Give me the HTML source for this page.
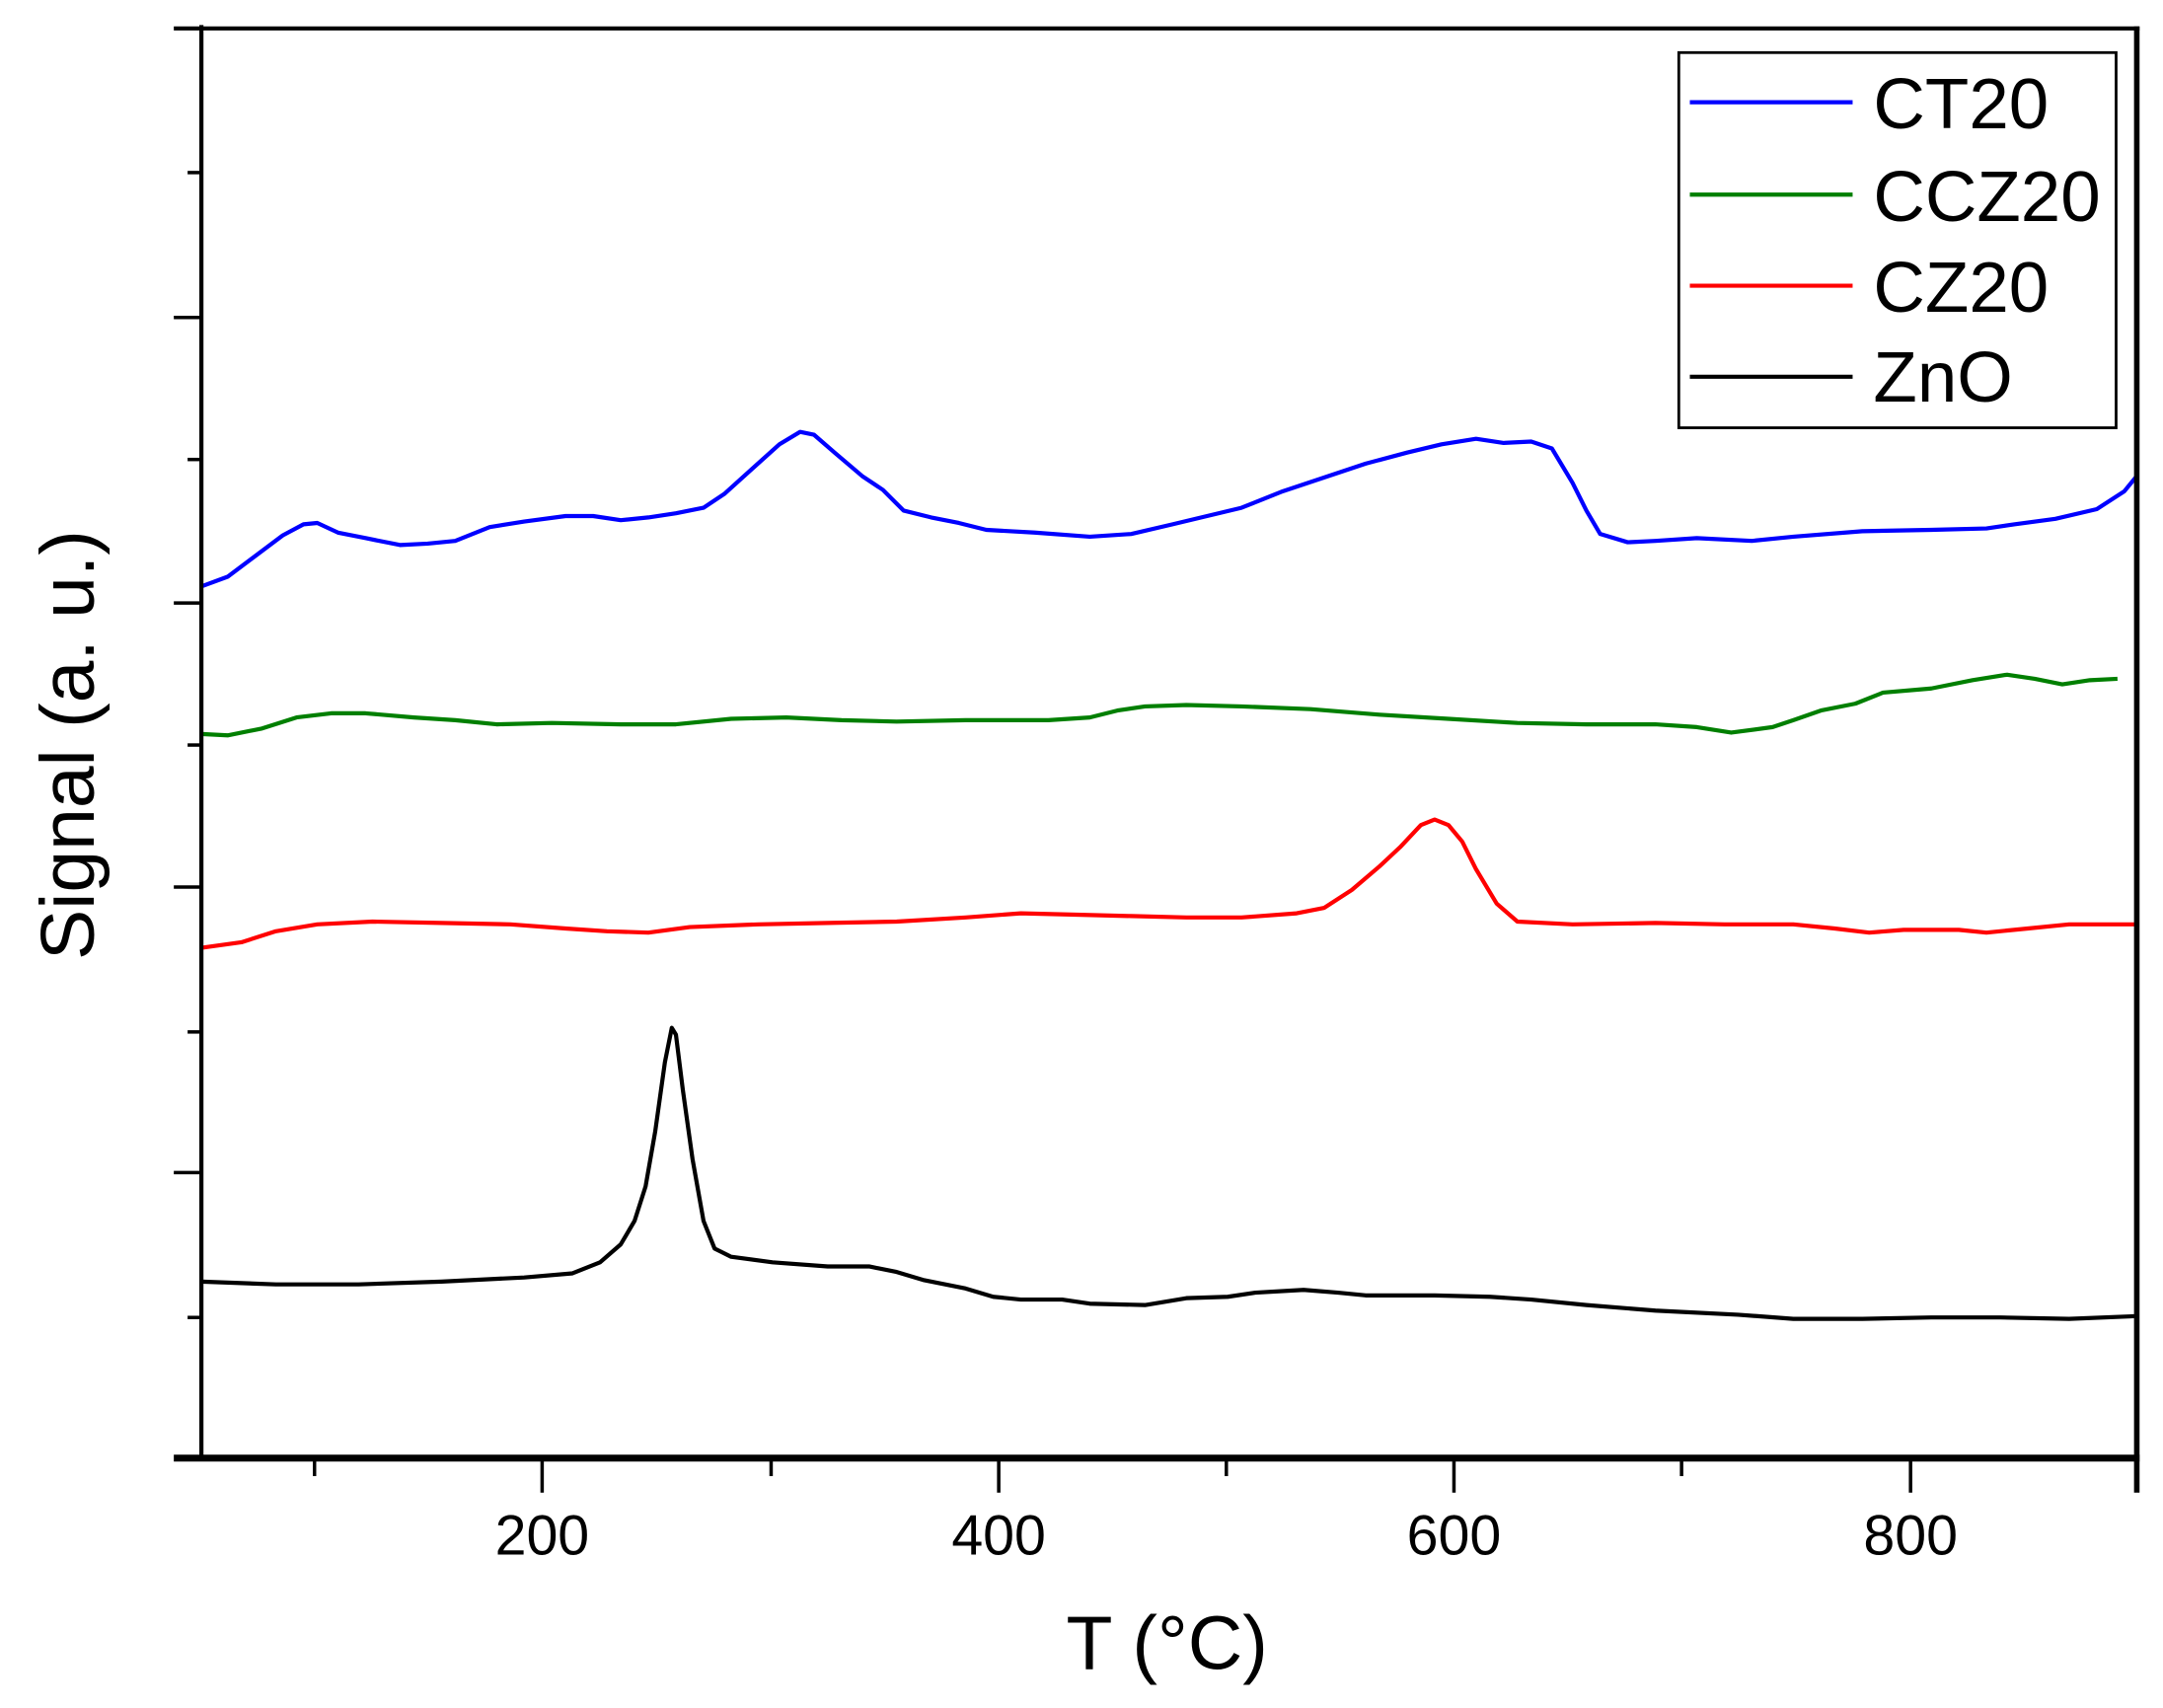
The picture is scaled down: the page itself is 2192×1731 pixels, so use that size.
<!DOCTYPE html>
<html><head><meta charset="utf-8"><style>html,body{margin:0;padding:0;background:#fff}svg{display:block}</style></head>
<body>
<svg width="2192" height="1731" viewBox="0 0 1568 1238" xmlns="http://www.w3.org/2000/svg" font-family="Liberation Sans, Arial, sans-serif">
<rect width="1568" height="1238" fill="#fff"/>
<g fill="none" stroke-width="3" stroke-linejoin="round">
<polyline stroke="#0000ff" points="146,425 165,418 185,403 205,388 220,380 230,379 245,386 265,390 290,395 310,394 330,392 355,382 380,378 410,374 430,374 450,377 470,375 490,372 510,368 525,358 545,340 565,322 580,313 590,315 605,328 625,345 640,355 655,370 675,375 695,379 715,384 750,386 790,389 820,387 850,380 875,374 900,368 930,356 960,346 990,336 1020,328 1045,322 1070,318 1090,321 1110,320 1125,325 1140,350 1150,370 1160,387 1180,393 1200,392 1230,390 1270,392 1300,389 1350,385 1400,384 1440,383 1460,380 1490,376 1520,369 1540,356 1549,345"/>
<polyline stroke="#007f00" points="146,532 165,533 190,528 215,520 240,517 265,517 300,520 330,522 360,525 400,524 450,525 490,525 530,521 570,520 610,522 650,523 700,522 760,522 790,520 810,515 830,512 860,511 900,512 950,514 1000,518 1050,521 1100,524 1150,525 1200,525 1230,527 1255,531 1285,527 1300,522 1320,515 1345,510 1365,502 1400,499 1430,493 1455,489 1475,492 1495,496 1515,493 1535,492"/>
<polyline stroke="#ff0000" points="146,687 175,683 200,675 230,670 270,668 320,669 370,670 410,673 440,675 470,676 500,672 550,670 600,669 650,668 700,665 740,662 780,663 820,664 860,665 900,665 940,662 960,658 980,645 1000,628 1015,614 1030,598 1040,594 1050,598 1060,610 1070,630 1085,655 1100,668 1140,670 1200,669 1250,670 1300,670 1330,673 1355,676 1380,674 1420,674 1440,676 1470,673 1500,670 1520,670 1549,670"/>
<polyline stroke="#000" points="146,929 200,931 260,931 320,929 380,926 415,923 435,915 450,902 460,885 468,860 475,820 482,770 487,745 490,750 495,790 502,840 510,885 518,905 530,911 560,915 600,918 630,918 650,922 670,928 700,934 720,940 740,942 770,942 790,945 830,946 860,941 890,940 910,937 945,935 970,937 990,939 1040,939 1080,940 1110,942 1150,946 1200,950 1260,953 1300,956 1350,956 1400,955 1450,955 1500,956 1549,954"/>
</g>
<g stroke="#000" fill="none">
<line x1="146" y1="18" x2="146" y2="1057" stroke-width="3"/>
<line x1="126" y1="20.5" x2="1551" y2="20.5" stroke-width="3"/>
<line x1="1549" y1="19" x2="1549" y2="1082" stroke-width="4"/>
<line x1="126" y1="1057" x2="1551" y2="1057" stroke-width="5"/>
<g stroke-width="2.5">
<line x1="126" y1="230" x2="146" y2="230"/><line x1="126" y1="437" x2="146" y2="437"/><line x1="126" y1="643" x2="146" y2="643"/><line x1="126" y1="850" x2="146" y2="850"/>
<line x1="136" y1="125" x2="146" y2="125"/><line x1="136" y1="333" x2="146" y2="333"/><line x1="136" y1="540" x2="146" y2="540"/><line x1="136" y1="748" x2="146" y2="748"/><line x1="136" y1="955" x2="146" y2="955"/>
<line x1="393" y1="1057" x2="393" y2="1082"/><line x1="724" y1="1057" x2="724" y2="1082"/><line x1="1054" y1="1057" x2="1054" y2="1082"/><line x1="1385" y1="1057" x2="1385" y2="1082"/>
<line x1="228" y1="1057" x2="228" y2="1070"/><line x1="559" y1="1057" x2="559" y2="1070"/><line x1="889" y1="1057" x2="889" y2="1070"/><line x1="1219" y1="1057" x2="1219" y2="1070"/>
</g>
<rect x="1217" y="38" width="317" height="272" stroke-width="2"/>
</g>
<g font-size="41" text-anchor="middle" fill="#000">
<text x="393" y="1127">200</text><text x="724" y="1127">400</text><text x="1054" y="1127">600</text><text x="1385" y="1127">800</text>
</g>
<text x="846" y="1210" font-size="55" text-anchor="middle">T (°C)</text>
<text transform="translate(68,540) rotate(-90)" font-size="55" text-anchor="middle">Signal (a. u.)</text>
<g stroke-width="3">
<line x1="1225" y1="74" x2="1343" y2="74" stroke="#0000ff"/>
<line x1="1225" y1="141" x2="1343" y2="141" stroke="#007f00"/>
<line x1="1225" y1="207" x2="1343" y2="207" stroke="#ff0000"/>
<line x1="1225" y1="273" x2="1343" y2="273" stroke="#000"/>
</g>
<g font-size="52" fill="#000">
<text x="1358" y="93">CT20</text><text x="1358" y="160">CCZ20</text><text x="1358" y="226">CZ20</text><text x="1358" y="291">ZnO</text>
</g>
</svg>
</body></html>
